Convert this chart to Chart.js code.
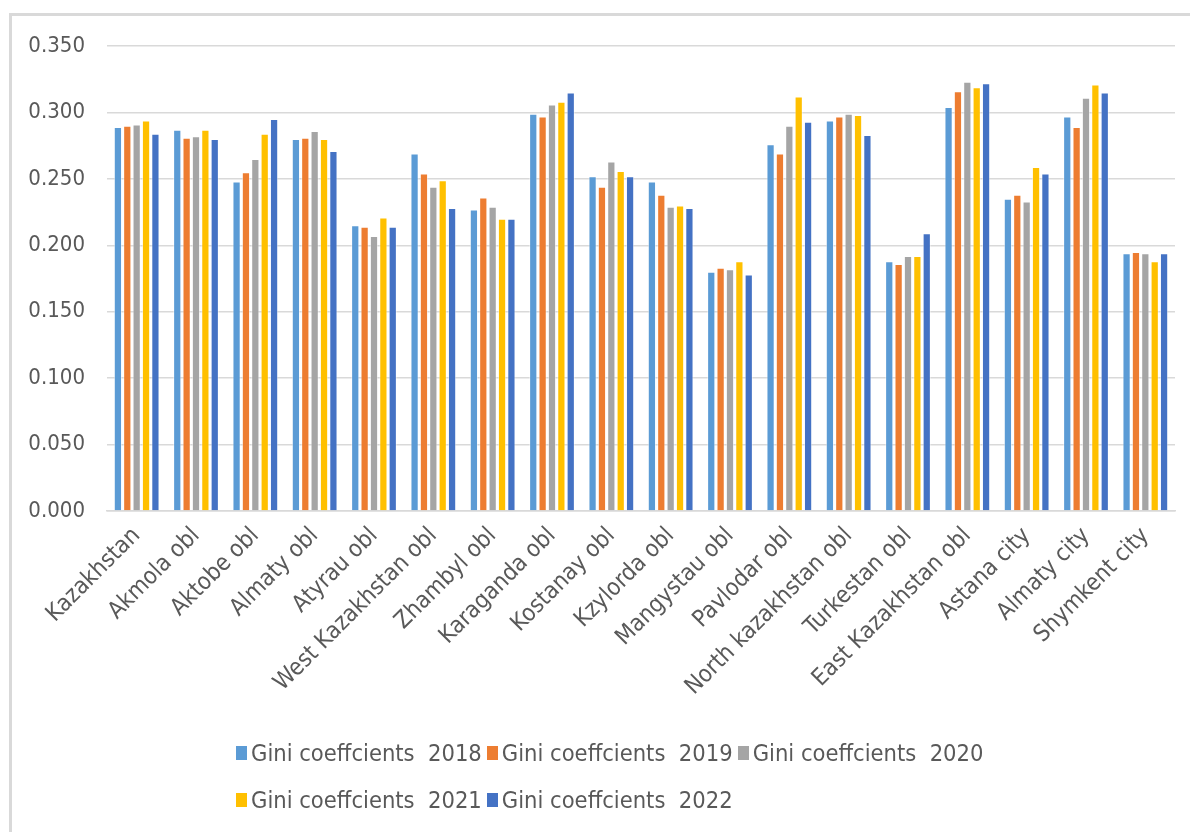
<!DOCTYPE html>
<html>
<head>
<meta charset="utf-8">
<script src="https://cdn.jsdelivr.net/npm/chart.js@4/dist/chart.umd.min.js"></script>
<style>
  html,body{margin:0;padding:0;background:#fff;}
  body{width:1190px;height:832px;overflow:hidden;position:relative;
       font-family:'Liberation Sans Narrow','DejaVu Sans Condensed','Liberation Sans',sans-serif;}
  #frame{position:absolute;left:9px;top:13px;width:1200px;height:840px;
         border-left:3px solid #d9d9d9;border-top:3px solid #d9d9d9;}
  #wrap{position:absolute;left:0;top:0;width:1190px;height:730px;}
  #legend{position:absolute;left:236px;top:729px;width:800px;display:flex;flex-wrap:wrap;
          color:#595959;font-size:23.5px;}
  #legend .it{display:flex;align-items:center;margin-right:5px;height:47px;}
  #legend .bx{width:11px;height:14px;margin-right:4px;}
</style>
</head>
<body>
<div id="frame"></div>
<div id="wrap"><canvas id="c"></canvas></div>
<div id="legend"></div>
<script>
const FONT = "'Liberation Sans Narrow','DejaVu Sans Condensed','Liberation Sans',sans-serif";
const TXT = '#595959', GRID = '#d9d9d9';

const regions = ['Kazakhstan','Akmola obl','Aktobe obl','Almaty obl','Atyrau obl','West Kazakhstan obl',
  'Zhambyl obl','Karaganda obl','Kostanay obl','Kzylorda obl','Mangystau obl','Pavlodar obl',
  'North kazakhstan obl','Turkestan obl','East Kazakhstan obl','Astana city','Almaty city','Shymkent city'];

const gini2018 = [0.289,0.287,0.248,0.280,0.215,0.269,0.227,0.299,0.252,0.248,0.180,0.276,0.294,0.188,0.304,0.235,0.297,0.194];
const gini2019 = [0.290,0.281,0.255,0.281,0.214,0.254,0.236,0.297,0.244,0.238,0.183,0.269,0.297,0.186,0.316,0.238,0.289,0.195];
const gini2020 = [0.291,0.282,0.265,0.286,0.207,0.244,0.229,0.306,0.263,0.229,0.182,0.290,0.299,0.192,0.323,0.233,0.311,0.194];
const gini2021 = [0.294,0.287,0.284,0.280,0.221,0.249,0.220,0.308,0.256,0.230,0.188,0.312,0.298,0.192,0.319,0.259,0.321,0.188];
const gini2022 = [0.284,0.280,0.295,0.271,0.214,0.228,0.220,0.315,0.252,0.228,0.178,0.293,0.283,0.209,0.322,0.254,0.315,0.194];

const seriesNames = ['Gini coeffcients  2018','Gini coeffcients  2019','Gini coeffcients  2020',
  'Gini coeffcients  2021','Gini coeffcients  2022'];
const seriesColors = ['#5B9BD5','#ED7D31','#A5A5A5','#FFC000','#4472C4'];
const seriesData = [gini2018,gini2019,gini2020,gini2021,gini2022];

const yTicks = {min:0, max:0.35, step:0.05};

const chart = new Chart(document.getElementById('c'), {
  type:'bar',
  data:{
    labels:regions,
    datasets:seriesData.map((d,i)=>({
      label:seriesNames[i], data:d, backgroundColor:seriesColors[i],
      borderColor:'rgba(255,255,255,0.5)', borderWidth:{left:1,right:1,top:1,bottom:0},
      categoryPercentage:0.79, barPercentage:0.88
    }))
  },
  options:{
    responsive:true, maintainAspectRatio:false, animation:false,
    layout:{padding:{left:9,right:15,top:46,bottom:0}},
    plugins:{legend:{display:false}, tooltip:{enabled:false}},
    scales:{
      x:{
        grid:{display:false},
        border:{display:true,color:GRID,width:1.5},
        ticks:{color:TXT,font:{family:FONT,size:23.5},minRotation:45,maxRotation:45,autoSkip:false,padding:3},
        afterFit:s=>{s.height=219;}
      },
      y:{
        min:yTicks.min, max:yTicks.max,
        grid:{color:GRID,lineWidth:1.5,drawTicks:false},
        border:{display:false},
        ticks:{stepSize:yTicks.step,color:TXT,font:{family:FONT,size:22},padding:22,
               callback:v=>v.toFixed(3)},
        afterFit:s=>{s.width=98;}
      }
    }
  }
});

document.getElementById('legend').innerHTML = chart.data.datasets.map(ds =>
  `<div class="it"><span class="bx" style="background:${ds.backgroundColor}"></span><span style="white-space:pre">${ds.label}</span></div>`).join('');
</script>
</body>
</html>
